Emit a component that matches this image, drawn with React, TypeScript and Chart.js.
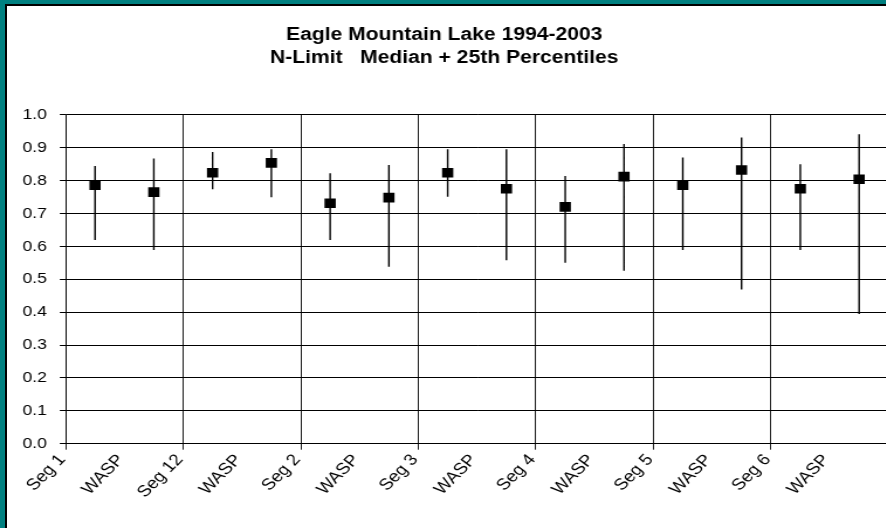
import React, { useEffect, useRef } from "react";
import { Chart, registerables } from "chart.js";

Chart.register(...registerables);

const titleLines = ["Eagle Mountain Lake 1994-2003", "N-Limit   Median + 25th Percentiles"];
const categories = ["Seg 1", "WASP", "Seg 12", "WASP", "Seg 2", "WASP", "Seg 3", "WASP", "Seg 4", "WASP", "Seg 5", "WASP", "Seg 6", "WASP"];
const medians = [0.786, 0.765, 0.824, 0.854, 0.731, 0.748, 0.824, 0.775, 0.72, 0.812, 0.786, 0.832, 0.775, 0.804];
const lower25 = [0.619, 0.589, 0.774, 0.749, 0.619, 0.538, 0.751, 0.558, 0.55, 0.526, 0.589, 0.469, 0.589, 0.394];
const upper75 = [0.844, 0.867, 0.887, 0.895, 0.822, 0.847, 0.895, 0.895, 0.814, 0.911, 0.87, 0.931, 0.85, 0.941];
const yMin = 0;
const yMax = 1;
const yStep = 0.1;

// the original picture is stretched horizontally; draw narrower and widen with CSS
const STRETCH = 1.17;
const CANVAS_W = 770;
const CANVAS_H = 528;

export default function App() {
  const ref = useRef<HTMLCanvasElement | null>(null);

  useEffect(() => {
    if (!ref.current) return;
    const medianPts = medians.map((v, i) => ({ x: i + 0.5, y: v }));
    const whiskerPts: { x: number; y: number | null }[] = [];
    categories.forEach((_, i) => {
      whiskerPts.push({ x: i + 0.5, y: lower25[i] });
      whiskerPts.push({ x: i + 0.5, y: upper75[i] });
      whiskerPts.push({ x: i + 0.5, y: null });
    });
    const font = "'Liberation Sans', Arial, sans-serif";
    const chart = new Chart(ref.current, {
      type: "scatter",
      data: {
        datasets: [
          {
            label: "Median",
            data: medianPts,
            pointStyle: "rect",
            pointRadius: 6.8,
            pointHoverRadius: 6.8,
            backgroundColor: "#000",
            borderColor: "#000",
            borderWidth: 0,
            showLine: false,
          },
          {
            label: "25th-75th",
            data: whiskerPts as any,
            showLine: true,
            spanGaps: false,
            borderColor: "#000",
            borderWidth: 1.4,
            pointRadius: 0,
            pointHoverRadius: 0,
          },
        ],
      },
      options: {
        animation: false,
        responsive: false,
        devicePixelRatio: 1,
        layout: { padding: { left: 0, right: 10.7, top: 0, bottom: 0 } },
        plugins: {
          legend: { display: false },
          tooltip: { enabled: false },
          title: {
            display: true,
            text: titleLines,
            color: "#000",
            font: { family: font, size: 18, weight: "bold", lineHeight: 1.3 },
            padding: { top: 23, bottom: 45 },
          },
        },
        scales: {
          x: {
            type: "linear",
            min: 0,
            max: categories.length,
            afterFit: (s: any) => {
              s.height = 84.3;
              s.paddingLeft = 0;
              s.paddingRight = 0;
            },
            ticks: {
              stepSize: 1,
              autoSkip: false,
              maxRotation: 49.5,
              minRotation: 49.5,
              color: "#000",
              font: { family: font, size: 16 },
              padding: 1,
              labelOffset: -3,
              callback: (v: any) => (categories[v as number] !== undefined ? categories[v as number] : ""),
            },
            grid: {
              color: (c: any) => (c.tick && c.tick.value % 2 === 0 ? "#000" : "rgba(0,0,0,0)"),
              tickColor: (c: any) => (c.tick && c.tick.value % 2 === 0 ? "#000" : "rgba(0,0,0,0)"),
              tickLength: 6,
              lineWidth: 0.9,
            },
            border: { display: true, color: "#000", width: 1 },
          },
          y: {
            type: "linear",
            min: yMin,
            max: yMax,
            afterFit: (s: any) => {
              s.width = 56.1;
            },
            ticks: {
              stepSize: yStep,
              color: "#000",
              font: { family: font, size: 15 },
              padding: 11,
              callback: (v: any) => Number(v).toFixed(1),
            },
            grid: { color: "#000", tickColor: "#000", tickLength: 5, lineWidth: 1 },
            border: { display: true, color: "#000", width: 0.9 },
          },
        },
      },
    });
    return () => chart.destroy();
  }, []);

  return (
    <div
      style={{
        position: "absolute",
        left: 0,
        top: 0,
        width: 886,
        height: 528,
        overflow: "hidden",
        background: "#008080",
      }}
    >
      <div
        style={{
          position: "absolute",
          left: 5,
          top: 4,
          width: 920,
          height: 560,
          background: "#fff",
          borderTop: "2px solid #000",
          borderLeft: "2px solid #000",
        }}
      />
      <canvas
        ref={ref}
        width={CANVAS_W}
        height={CANVAS_H}
        style={{
          position: "absolute",
          left: 0,
          top: 0,
          width: CANVAS_W * STRETCH,
          height: CANVAS_H,
        }}
      />
    </div>
  );
}
